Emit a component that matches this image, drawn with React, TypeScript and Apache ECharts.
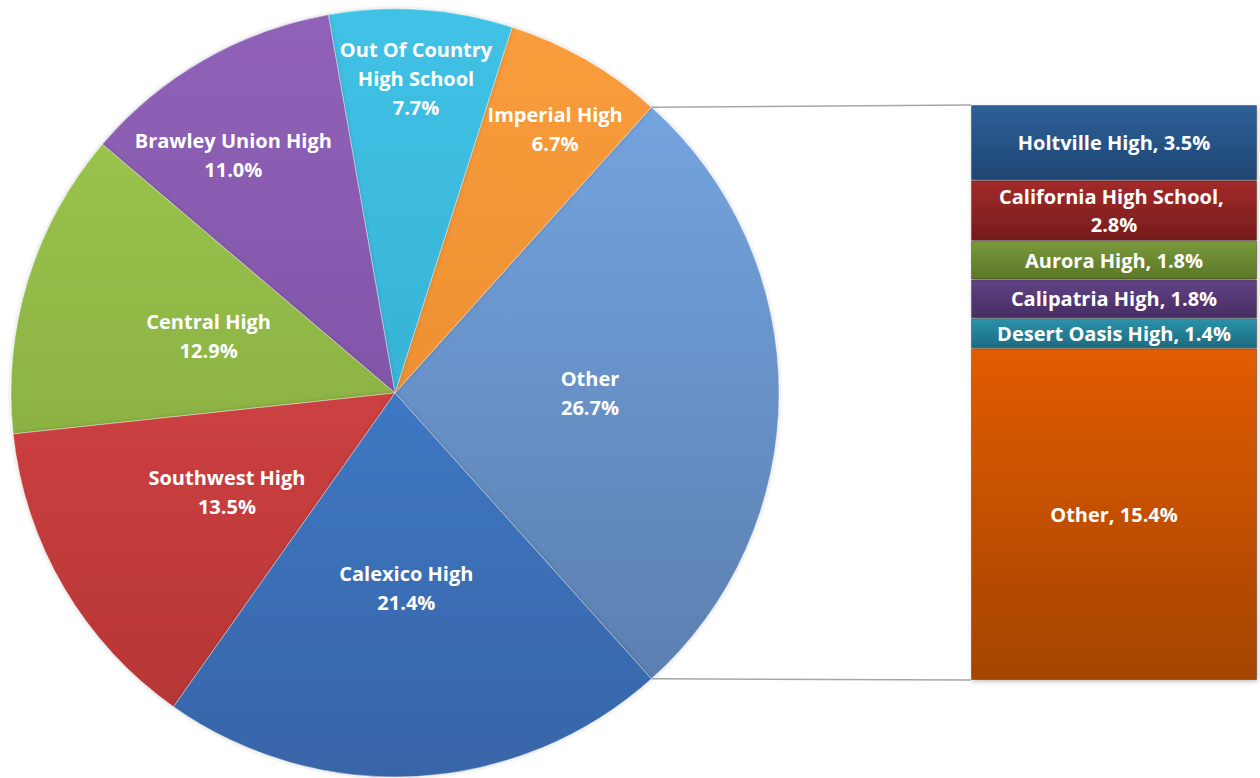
import React, { useEffect, useRef } from "react";
import * as echarts from "echarts";

const pieNames = [
  "Other",
  "Imperial High",
  "Out Of Country High School",
  "Brawley Union High",
  "Central High",
  "Southwest High",
  "Calexico High",
];
const pieLabelNames = [
  "Other",
  "Imperial High",
  "Out Of Country\nHigh School",
  "Brawley Union High",
  "Central High",
  "Southwest High",
  "Calexico High",
];
const pieValues = [26.7, 6.7, 7.7, 11.0, 12.9, 13.5, 21.4];
const pieTop = ["#78AAE6", "#FA9D3C", "#40C2E6", "#9062B8", "#9FCB50", "#E54C4C", "#4389DC"];
const pieBottom = ["#5779A8", "#E0842A", "#2FA5C6", "#744A9A", "#7C9E38", "#B33434", "#3865A8"];
// which label layer each pie label sits on: 0 = mid radius, 1..2 = outer bands, 3 = free text
const pieLabelRing = [0, 1, 3, 2, 0, 0, 0];

const barNames = [
  "Holtville High",
  "California High School",
  "Aurora High",
  "Calipatria High",
  "Desert Oasis High",
  "Other",
];
const barValues = [3.5, 2.8, 1.8, 1.8, 1.4, 15.4];
const barTop = ["#2E6098", "#A32A2A", "#7A9A3C", "#624286", "#2B93AC", "#E25C06"];
const barBottom = ["#1E4673", "#751C1C", "#5B7628", "#462D63", "#1D6A7E", "#A44402"];

const W = 1260;
const H = 778;
const CX = 395;
const CY = 393;
const R = 384;
const GRID = { left: 971, right: 3, top: 105, bottom: 98 };

const FONT = "Open Sans";

export default function App() {
  const ref = useRef<HTMLDivElement>(null);

  useEffect(() => {
    if (!ref.current) return;
    const chart = echarts.init(ref.current, null, { renderer: "svg" });

    const total = pieValues.reduce((a, b) => a + b, 0);
    const otherDeg = (pieValues[0] / total) * 360;
    const startAngle = -otherDeg / 2;

    const vGrad = (top: string, bottom: string, y0: number, y1: number) =>
      new echarts.graphic.LinearGradient(0, y0, 0, y1, [
        { offset: 0, color: top },
        { offset: 1, color: bottom },
      ], true);

    const labelStyle = {
      color: "#FFFFFF",
      fontFamily: FONT,
      fontWeight: "bold" as const,
      fontSize: 20,
      lineHeight: 29,
    };

    const pieText = (i: number) => `${pieLabelNames[i]}\n${pieValues[i].toFixed(1)}%`;

    const pieData = pieValues.map((v, i) => ({
      name: pieNames[i],
      value: v,
      itemStyle: { color: vGrad(pieTop[i], pieBottom[i], CY - R, CY + R) },
      label: { show: pieLabelRing[i] === 0 },
    }));

    const overlay = (ring: number, r0: number, r1: number, offset: number[]) => ({
      type: "pie",
      center: [CX, CY],
      radius: [r0, r1],
      startAngle,
      clockwise: false,
      silent: true,
      z: 5,
      itemStyle: { color: "rgba(0,0,0,0)" },
      emphasis: { disabled: true },
      labelLine: { show: false },
      label: {
        position: "inside",
        ...labelStyle,
        offset,
        formatter: (p: any) => pieText(p.dataIndex),
      },
      data: pieValues.map((v, i) => ({
        name: pieNames[i],
        value: v,
        label: { show: pieLabelRing[i] === ring },
      })),
    });

    // free-standing labels (ring 3), placed at the slice's mid-angle
    const freeLabels: any[] = [];
    let cum = 0;
    pieValues.forEach((v, i) => {
      const mid = startAngle + ((cum + v / 2) / total) * 360;
      cum += v;
      if (pieLabelRing[i] !== 3) return;
      const rad = (mid * Math.PI) / 180;
      const rr = R * 0.81;
      freeLabels.push({
        type: "text",
        z: 100,
        x: CX + rr * Math.cos(rad),
        y: CY - rr * Math.sin(rad) - 4,
        style: {
          text: pieText(i),
          fill: "#FFFFFF",
          font: `bold 20px "${FONT}"`,
          lineHeight: 29,
          align: "center",
          verticalAlign: "middle",
        },
      });
    });

    const a = (otherDeg / 2) * Math.PI / 180;
    const pUpper = [CX + R * Math.cos(a), CY - R * Math.sin(a)];
    const pLower = [CX + R * Math.cos(a), CY + R * Math.sin(a)];
    const barTopY = GRID.top;
    const barBottomY = H - GRID.bottom;

    let acc = 0;
    const barTotal = barValues.reduce((s, v) => s + v, 0);
    const plotH = H - GRID.top - GRID.bottom;
    const barSeries = barValues.map((v, i) => {
      const y0 = GRID.top + (acc / barTotal) * plotH;
      acc += v;
      const y1 = GRID.top + (acc / barTotal) * plotH;
      return {
        type: "bar",
        name: barNames[i],
        stack: "s",
        barWidth: "100%",
        silent: true,
        itemStyle: {
          color: vGrad(barTop[i], barBottom[i], y0, y1),
          borderColor: "rgba(40,20,10,0.35)",
          borderWidth: 1,
          shadowColor: "rgba(0,0,0,0.25)",
          shadowBlur: 4,
          shadowOffsetX: 1,
          shadowOffsetY: 2,
        },
        label: {
          show: true,
          position: "inside",
          ...labelStyle,
          lineHeight: 28,
          width: 262,
          overflow: "break",
          formatter: (p: any) => `${barNames[i]}, ${Number(p.value).toFixed(1)}%`,
        },
        data: [v],
      };
    });

    chart.setOption({
      animation: false,
      backgroundColor: "#FFFFFF",
      grid: { ...GRID, containLabel: false },
      xAxis: { type: "category", data: ["bar"], show: false },
      yAxis: { type: "value", min: 0, max: barTotal, inverse: true, show: false },
      graphic: [
        {
          type: "line",
          z: 0,
          shape: { x1: pUpper[0], y1: pUpper[1], x2: GRID.left, y2: barTopY },
          style: { stroke: "#A6A6A6", lineWidth: 1.5 },
        },
        {
          type: "line",
          z: 0,
          shape: { x1: pLower[0], y1: pLower[1], x2: GRID.left, y2: barBottomY },
          style: { stroke: "#A6A6A6", lineWidth: 1.5 },
        },
        ...freeLabels,
      ],
      series: [
        {
          type: "pie",
          center: [CX, CY],
          radius: [0, R],
          startAngle,
          clockwise: false,
          silent: true,
          z: 2,
          itemStyle: {
            borderColor: "rgba(255,255,255,0.35)",
            borderWidth: 1,
            shadowColor: "rgba(0,0,0,0.2)",
            shadowBlur: 4,
          },
          emphasis: { disabled: true },
          labelLine: { show: false },
          label: {
            position: "inside",
            ...labelStyle,
            formatter: (p: any) => pieText(p.dataIndex),
          },
          data: pieData,
        },
        overlay(1, R * 0.62, R, [4, 8]),
        overlay(2, R * 0.5, R, [-17, 14]),
        ...barSeries,
      ],
    });

    return () => chart.dispose();
  }, []);

  return (
    <div
      ref={ref}
      style={{ position: "fixed", left: 0, top: 0, width: W, height: H }}
    />
  );
}
